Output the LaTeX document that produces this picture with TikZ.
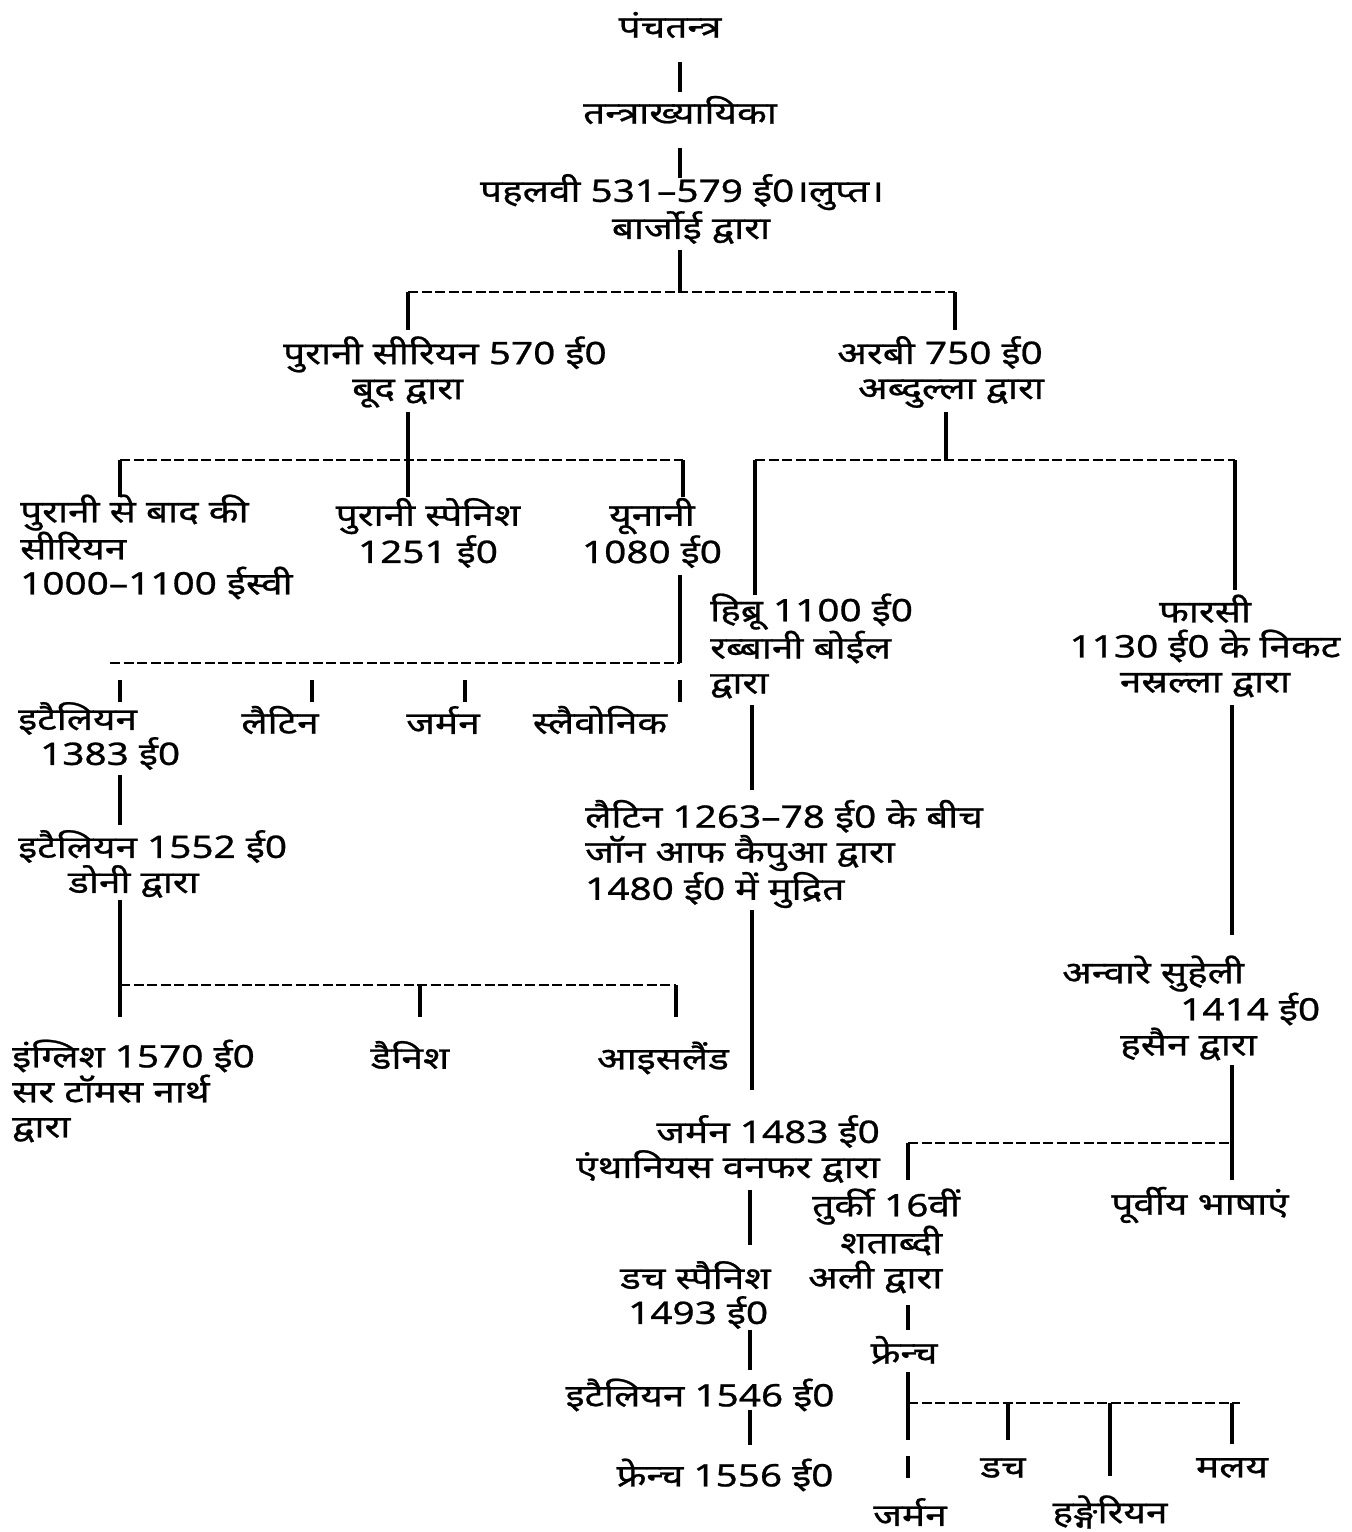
\documentclass[tikz,border=0pt]{standalone}
\usepackage{fontspec}
\newfontfamily\dev[Script=Devanagari, FakeStretch=1.25, FakeBold=0.8]{Noto Sans}
\begin{document}
\begin{tikzpicture}[x=1pt,y=-1pt,
  lbl/.style={font=\dev\fontsize{31}{35}\selectfont, inner sep=0pt, align=center},
  lbll/.style={lbl, align=left, anchor=west},
  lblr/.style={lbl, align=right, anchor=east},
  solidln/.style={line width=3.2pt, black},
  bar/.style={line width=2.2pt, black, dash pattern=on 10pt off 3.5pt}]
\useasboundingbox[fill=white] (0,0) rectangle (1352,1532);

% ---------- nodes ----------
\node[lbl] (panch) at (670,25) {पंचतन्त्र};
\node[lbl] (tantra) at (680,110) {तन्त्राख्यायिका};
\node[lbl] (pahl) at (682,209) {पहलवी 531–579 ई0।लुप्त।\\\hspace*{18pt}बार्जोई द्वारा};
\node[lbll] (syr) at (283,372) {पुरानी सीरियन 570 ई0\\\hspace*{69pt}बूद द्वारा};
\node[lbl] (arab) at (940,372) {अरबी 750 ई0\\\hspace*{22pt}अब्दुल्ला द्वारा};
\node[lbll] (later) at (20,547) {पुरानी से बाद की\\सीरियन\\1000–1100 ईस्वी};
\node[lbl] (spanold) at (428,533) {पुरानी स्पेनिश\\1251 ई0};
\node[lbl] (greek) at (652,533) {यूनानी\\1080 ई0};
\node[lbll] (hebrew) at (710,646) {हिब्रू 1100 ई0\\रब्बानी बोईल\\द्वारा};
\node[lbl] (pers) at (1205,646) {फारसी\\1130 ई0 के निकट\\नस्रल्ला द्वारा};
\node[lbll] (ital1) at (18,736) {इटैलियन\\\hspace*{22pt}1383 ई0};
\node[lbl] (lat1) at (280,720) {लैटिन};
\node[lbl] (ger1) at (443,720) {जर्मन};
\node[lbl] (slav) at (600,720) {स्लैवोनिक};
\node[lbll] (ital2) at (18,864) {इटैलियन 1552 ई0\\\hspace*{50pt}डोनी द्वारा};
\node[lbll] (lat2) at (585,854) {लैटिन 1263–78 ई0 के बीच\\जॉन आफ कैपुआ द्वारा\\1480 ई0 में मुद्रित};
\node[lbll] (eng) at (12,1091) {इंग्लिश 1570 ई0\\सर टॉमस नार्थ\\द्वारा};
\node[lbl] (dan) at (410,1055) {डैनिश};
\node[lbl] (ice) at (663,1058) {आइसलैंड};
\node[lbll] (anvar) at (1062,1008) {अन्वारे सुहेली\\\hspace*{118pt}1414 ई0\\\hspace*{58pt}हसैन द्वारा};
\node[lblr] (ger2) at (880,1149) {जर्मन 1483 ई0\\एंथानियस वनफर द्वारा};
\node[lbll] (turk) at (808,1241) {\hspace*{4pt}तुर्की 16वीं\\\hspace*{32pt}शताब्दी\\अली द्वारा};
\node[lbl] (east) at (1200,1205) {पूर्वीय भाषाएं};
\node[lbll] (dutch1) at (620,1295) {डच स्पैनिश\\\hspace*{8pt}1493 ई0};
\node[lbl] (fr1) at (904,1350) {फ्रेन्च};
\node[lbl] (ital3) at (700,1395) {इटैलियन 1546 ई0};
\node[lbl] (fr2) at (725,1475) {फ्रेन्च 1556 ई0};
\node[lbl] (dutch2) at (1003,1468) {डच};
\node[lbl] (malay) at (1232,1468) {मलय};
\node[lbl] (ger3) at (910,1512) {जर्मन};
\node[lbl] (hung) at (1110,1512) {हङ्गेरियन};

% ---------- junction coordinates ----------
\coordinate (a1) at (680,62);   \coordinate (a2) at (680,92);
\coordinate (a3) at (680,148);  \coordinate (a4) at (680,178);
\coordinate (a5) at (680,250);  \coordinate (a6) at (680,292);
\coordinate (b1) at (408,292);  \coordinate (b2) at (955,292);
\coordinate (b1d) at (408,330); \coordinate (b2d) at (955,330);
% Syrian branch
\coordinate (c1) at (408,412);  \coordinate (c2) at (408,497);
\coordinate (c3) at (120,460);  \coordinate (c4) at (683,460);
\coordinate (c3d) at (120,497); \coordinate (c4d) at (683,497);
% Arabic branch
\coordinate (d1) at (946,412);  \coordinate (d2) at (946,460);
\coordinate (d3) at (755,460);  \coordinate (d4) at (1235,460);
\coordinate (d3d) at (755,595); \coordinate (d4d) at (1235,590);
% Greek
\coordinate (e1) at (680,575);  \coordinate (e2) at (680,663);
\coordinate (e3) at (110,663);
\foreach \x/\n in {120/t1,312/t2,465/t3,680/t4}{
  \coordinate (\n u) at (\x,680); \coordinate (\n d) at (\x,702);}
% Italian chain
\coordinate (f1) at (120,775);  \coordinate (f2) at (120,825);
\coordinate (f3) at (120,900);  \coordinate (f4) at (120,985);
\coordinate (f5) at (676,985);  \coordinate (f4d) at (120,1017);
\coordinate (f6) at (420,985);  \coordinate (f6d) at (420,1017);
\coordinate (f5d) at (676,1017);
% Hebrew chain
\coordinate (g1) at (752,705);  \coordinate (g2) at (752,790);
\coordinate (g3) at (752,910);  \coordinate (g4) at (752,1090);
\coordinate (g5) at (750,1190); \coordinate (g6) at (750,1245);
\coordinate (g7) at (750,1330); \coordinate (g8) at (750,1370);
\coordinate (g9) at (750,1410); \coordinate (g10) at (750,1445);
% Persian chain
\coordinate (h1) at (1232,705); \coordinate (h2) at (1232,935);
\coordinate (h3) at (1232,1065); \coordinate (h4) at (1232,1143);
\coordinate (h5) at (1232,1180); \coordinate (h6) at (908,1143);
\coordinate (h7) at (908,1180);
% Turkish / French chain
\coordinate (k1) at (908,1305); \coordinate (k2) at (908,1330);
\coordinate (k3) at (908,1372); \coordinate (k4) at (908,1403);
\coordinate (k5) at (908,1440); \coordinate (k6) at (908,1456);
\coordinate (k7) at (908,1478); \coordinate (k8) at (1240,1403);
\coordinate (m1) at (1008,1403); \coordinate (m1d) at (1008,1440);
\coordinate (m2) at (1110,1403); \coordinate (m2d) at (1110,1476);
\coordinate (m3) at (1232,1403); \coordinate (m3d) at (1232,1444);

% ---------- connectors ----------
\draw[solidln] (a1) -- (a2);
\draw[solidln] (a3) -- (a4);
\draw[solidln] (a5) -- (a6);
\draw[bar] (b1) -- (b2);
\draw[solidln] (b1) -- (b1d);
\draw[solidln] (b2) -- (b2d);

\draw[solidln] (c1) -- (c2);
\draw[bar] (c3) -- (c4);
\draw[solidln] (c3) -- (c3d);
\draw[solidln] (c4) -- (c4d);

\draw[solidln] (d1) -- (d2);
\draw[bar] (d3) -- (d4);
\draw[solidln] (d3) -- (d3d);
\draw[solidln] (d4) -- (d4d);

\draw[solidln] (e1) -- (e2);
\draw[bar] (e3) -- (e2);
\foreach \n in {t1,t2,t3,t4} \draw[solidln] (\n u) -- (\n d);

\draw[solidln] (f1) -- (f2);
\draw[solidln] (f3) -- (f4d);
\draw[bar] (f4) -- (f5);
\draw[solidln] (f6) -- (f6d);
\draw[solidln] (f5) -- (f5d);

\draw[solidln] (g1) -- (g2);
\draw[solidln] (g3) -- (g4);
\draw[solidln] (g5) -- (g6);
\draw[solidln] (g7) -- (g8);
\draw[solidln] (g9) -- (g10);

\draw[solidln] (h1) -- (h2);
\draw[solidln] (h3) -- (h5);
\draw[bar] (h6) -- (h4);
\draw[solidln] (h6) -- (h7);

\draw[solidln] (k1) -- (k2);
\draw[solidln] (k3) -- (k5);
\draw[solidln] (k6) -- (k7);
\draw[bar] (k4) -- (k8);
\draw[solidln] (m1) -- (m1d);
\draw[solidln] (m2) -- (m2d);
\draw[solidln] (m3) -- (m3d);
\end{tikzpicture}
\end{document}
